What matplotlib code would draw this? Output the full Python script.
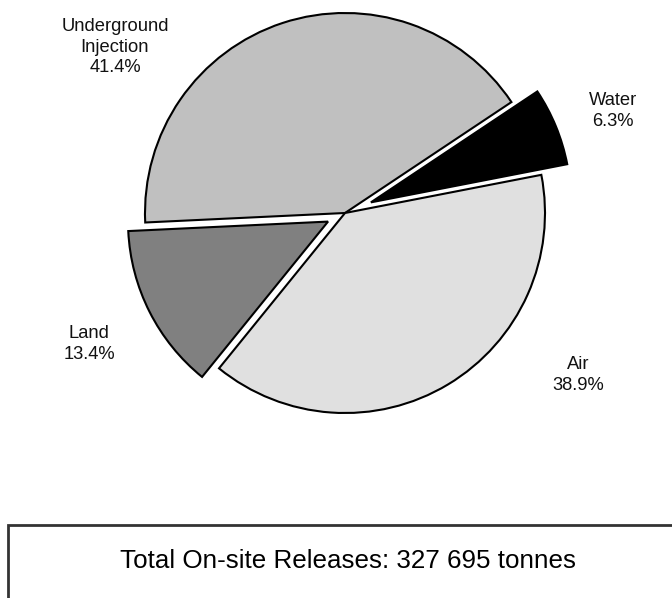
import matplotlib.pyplot as plt
from matplotlib.patches import Rectangle

plt.rcParams['font.family'] = ['Liberation Sans', 'DejaVu Sans']

# -------------------------------------------------
# DATA
# -------------------------------------------------

categories = ["Water", "Underground\nInjection", "Land", "Air"]
shares = [6.3, 41.4, 13.4, 38.9]
colors = ["#000000", "#c0c0c0", "#808080", "#e0e0e0"]
explode_frac = [0.14, 0.0, 0.095, 0.0]
total_text = "Total On-site Releases: 327 695 tonnes"

# label centres in pixel coords (x, y from top)
label_pos = [(613, 111), (115, 47), (89, 344), (578, 375)]

W, H = 672, 598

# -------------------------------------------------
# PIE
# -------------------------------------------------

fig = plt.figure(figsize=(W / 100, H / 100), dpi=100)
ax = fig.add_axes([0, 0, 1, 1])

cx, cy, R = 345, H - 213, 200
# pie's explode is in data units, not radius fractions
explode = [e * R for e in explode_frac]
ax.pie(shares, explode=explode, colors=colors, startangle=11,
       center=(cx, cy), radius=R, frame=True,
       wedgeprops=dict(edgecolor="black", linewidth=1.5))

for name, val, (px, py) in zip(categories, shares, label_pos):
    ax.text(px, H - py, f"{name}\n{val}%", ha="center", va="center",
            fontsize=13.2, linespacing=1.25, color="#111111")

# bottom box
ax.add_patch(Rectangle((8, -20), 700, H - 525 + 20, fill=False,
                       edgecolor="#333333", linewidth=2))
ax.text(348, H - 561, total_text, ha="center", va="center", fontsize=18.7)

ax.set_xlim(0, W)
ax.set_ylim(0, H)
ax.set_aspect("equal")
ax.axis("off")

fig.savefig("out.png", dpi=100)
